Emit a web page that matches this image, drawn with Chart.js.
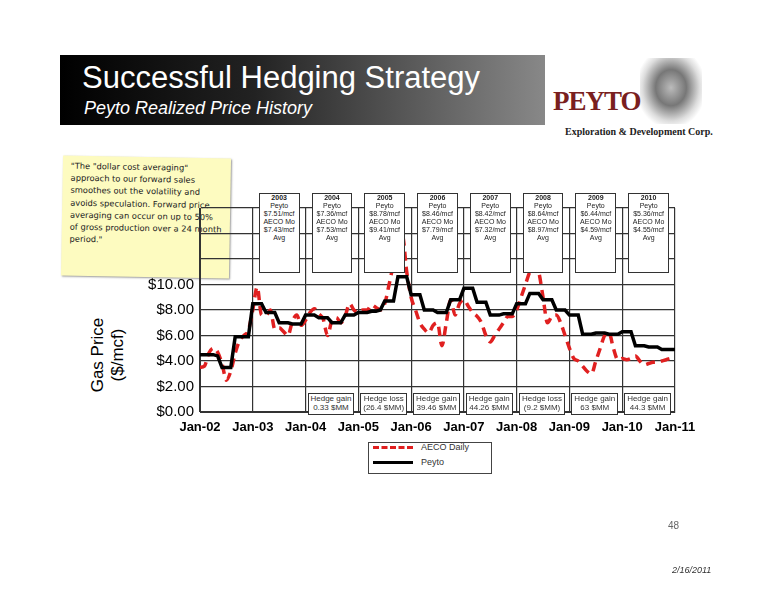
<!DOCTYPE html>
<html><head><meta charset="utf-8">
<script src="https://cdn.jsdelivr.net/npm/chart.js@4"></script>
<style>
body{margin:0;width:776px;height:600px;background:#fff;font-family:Arial,"Liberation Sans",sans-serif;position:relative;overflow:hidden}
.abs{position:absolute}
#hdr{left:60px;top:55px;width:485px;height:70px;background:linear-gradient(90deg,#000 0%,#222 40%,#888 100%)}
#t1{left:82px;top:60px;color:#fff;font-size:31px}
#t2{left:84px;top:98px;color:#fff;font-size:18px;font-style:italic}
.yb{top:193px;height:78px;border:1px solid #333;background:#fff;font-size:7px;text-align:center;line-height:8px;color:#222}
.hb{top:393px;height:20px;border:1px solid #333;background:#fff;font-size:8px;text-align:center;line-height:9px;color:#333}
</style></head><body>
<div id="hdr" class="abs"></div>
<div id="t1" class="abs">Successful Hedging Strategy</div>
<div id="t2" class="abs">Peyto Realized Price History</div>
<div class="abs" style="left:640px;top:58px;width:62px;height:66px;background:radial-gradient(ellipse at 50% 45%,#bbb 0%,#777 35%,#ddd 65%,#fff 80%)"></div>
<div class="abs" style="left:553px;top:86px;font-family:'Liberation Serif',serif;font-size:27px;font-weight:bold;color:#7a1f1f;letter-spacing:-1px">PEYTO</div>
<div class="abs" style="left:565px;top:126px;font-family:'Liberation Serif',serif;font-size:10px;font-weight:bold;color:#222">Exploration &amp; Development Corp.</div>
<div class="abs" style="left:62px;top:157px;width:152px;height:112px;background:#fdfbc0;box-shadow:1px 1px 2px #999;transform:rotate(1deg);font-size:8.3px;line-height:12.2px;padding:4px 8px;font-family:'DejaVu Sans';color:#222">"The "dollar cost averaging" approach to our forward sales smoothes out the volatility and avoids speculation. Forward price averaging can occur on up to 50% of gross production over a 24 month period."</div>
<div class="abs" style="left:58px;top:300px;width:100px;height:110px;display:flex;align-items:center;justify-content:center"><div style="transform:rotate(-90deg);font-size:17px;text-align:center;line-height:20px;white-space:nowrap">Gas Price<br>($/mcf)</div></div>
<canvas id="c" class="abs" style="left:0;top:0" width="776" height="600"></canvas>
<div id="boxes"></div>
<div class="abs" style="left:368px;top:442px;width:122px;height:30px;border:1px solid #444;background:#fff;font-size:9px">
 <div style="position:absolute;left:4px;top:3px;width:40px;border-top:3px dashed #e02020"></div><div style="position:absolute;left:52px;top:-1px;color:#333">AECO Daily</div>
 <div style="position:absolute;left:4px;top:18px;width:40px;border-top:3px solid #000"></div><div style="position:absolute;left:52px;top:14px;color:#333">Peyto</div>
</div>
<div class="abs" style="left:668px;top:520px;font-size:10px;color:#666">48</div>
<div class="abs" style="left:672px;top:565px;font-size:9px;font-style:italic;color:#333">2/16/2011</div>
<script>
const xLabels=["Jan-02","Jan-03","Jan-04","Jan-05","Jan-06","Jan-07","Jan-08","Jan-09","Jan-10","Jan-11"];
const peyto=[4.5,4.5,4.5,4.5,4.4,3.5,3.5,3.5,5.9,5.9,5.9,5.9,
8.5,8.5,8.5,7.8,7.8,7.8,7.0,7.0,7.0,6.9,6.9,6.9,
7.6,7.6,7.6,7.4,7.4,7.4,7.0,7.0,7.0,7.6,7.6,7.6,
7.8,7.8,7.8,7.9,7.9,8.0,8.7,8.7,8.7,10.6,10.6,10.6,
9.2,9.2,9.2,8.0,8.0,8.0,7.8,7.8,7.8,8.8,8.8,8.8,
9.7,9.7,9.7,8.6,8.6,8.6,7.6,7.6,7.6,7.7,7.7,7.7,
8.5,8.5,8.5,9.3,9.3,9.3,8.8,8.8,8.8,8.0,8.0,8.0,
7.6,7.6,7.6,6.1,6.1,6.1,6.2,6.2,6.2,6.1,6.1,6.1,
6.3,6.3,6.3,5.2,5.2,5.2,5.1,5.1,5.1,4.9,4.9,4.9,4.9];
const aeco=[3.5,3.6,4.6,5.0,4.7,3.8,2.5,3.2,4.6,5.6,6.0,6.4,
8.0,9.8,7.6,7.6,8.0,6.5,6.6,6.3,6.0,7.1,7.6,6.8,
7.2,7.8,8.1,7.7,7.3,6.0,7.2,7.4,7.0,7.5,8.5,8.0,
7.8,8.0,8.0,8.4,8.2,8.0,8.5,10.0,11.5,12.0,13.9,11.0,
9.0,8.0,7.0,6.5,6.2,6.8,7.0,5.2,7.0,8.8,7.6,8.5,
8.8,8.3,7.8,7.5,7.0,6.0,5.5,6.0,6.5,7.0,7.5,7.5,
8.0,9.0,10.0,11.0,11.5,11.0,9.0,7.0,7.5,7.6,7.0,6.0,
5.0,4.2,4.0,3.6,3.2,3.0,4.0,5.0,6.0,6.2,5.0,4.1,
4.2,4.1,4.2,4.4,4.0,3.7,3.8,3.9,3.9,4.0,4.1,4.2,4.2];
const yearBoxes=[["2003","$7.51/mcf","$7.43/mcf"],["2004","$7.36/mcf","$7.53/mcf"],["2005","$8.78/mcf","$9.41/mcf"],["2006","$8.46/mcf","$7.79/mcf"],["2007","$8.42/mcf","$7.32/mcf"],["2008","$8.64/mcf","$8.97/mcf"],["2009","$6.44/mcf","$4.59/mcf"],["2010","$5.36/mcf","$4.55/mcf"]];
const hedges=["Hedge gain<br>0.33 $MM","Hedge loss<br>(26.4 $MM)","Hedge gain<br>39.46 $MM","Hedge gain<br>44.26 $MM","Hedge loss<br>(9.2 $MM)","Hedge gain<br>63 $MM","Hedge gain<br>44.3 $MM"];
const N=peyto.length;
const idx=[...Array(N).keys()];
const ch=new Chart(document.getElementById('c'),{type:'line',
data:{datasets:[
{label:'Peyto',data:idx.map(i=>({x:i,y:peyto[i]})),borderColor:'#000',borderWidth:3.5,pointRadius:0,tension:0,order:1},
{label:'AECO Daily',data:idx.map(i=>({x:i,y:aeco[i]})),borderColor:'#e02020',borderWidth:3.5,borderDash:[9,6],pointRadius:0,tension:0.4,cubicInterpolationMode:'monotone',order:2}]},
options:{responsive:false,animation:false,layout:{padding:{left:130,top:208,right:101,bottom:158}},
plugins:{legend:{display:false},tooltip:{enabled:false}},
scales:{x:{type:'linear',min:0,max:108,afterBuildTicks:s=>{s.ticks=xLabels.map((l,i)=>({value:i*12}));},
afterFit:s=>{s.height=30;},
ticks:{callback:(v)=>xLabels[v/12],font:{size:13,weight:'bold'},color:'#000',maxRotation:0,autoSkip:false,padding:8},
grid:{color:'#333',lineWidth:1.2,drawTicks:false},border:{color:'#333'}},
y:{min:0,max:16,afterFit:s=>{s.width=70;},ticks:{stepSize:2,callback:v=>v<=10?'$'+v.toFixed(2):'',font:{size:15},color:'#000',padding:6},
grid:{color:'#333',lineWidth:1.2,drawTicks:false},border:{color:'#333'}}}}});
const xs=ch.scales.x;let h='';
yearBoxes.forEach((b,k)=>{const l=xs.getPixelForValue(12*(k+1))+2,r=xs.getPixelForValue(12*(k+2))-2;
h+=`<div class="abs yb" style="left:${l+4}px;width:${r-l-10}px"><b>${b[0]}</b><br>Peyto<br>${b[1]}<br>AECO Mo<br>${b[2]}<br>Avg</div>`;});
hedges.forEach((t,k)=>{const l=xs.getPixelForValue(12*(k+2)),r=xs.getPixelForValue(12*(k+3));
h+=`<div class="abs hb" style="left:${l+2}px;width:${r-l-8}px">${t}</div>`;});
document.getElementById('boxes').innerHTML=h;
</script></body></html>
